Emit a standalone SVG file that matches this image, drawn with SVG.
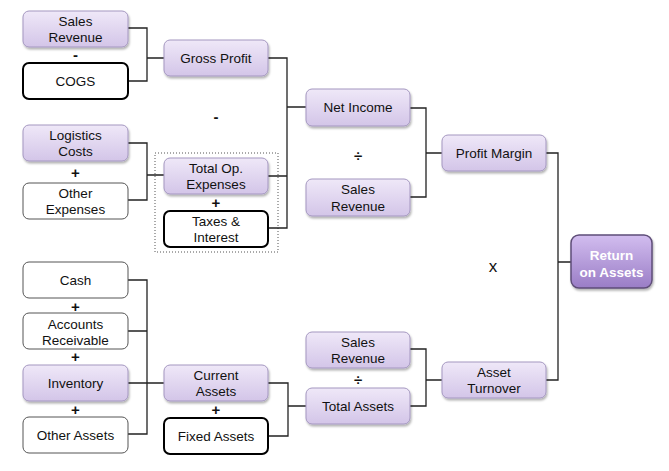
<svg xmlns="http://www.w3.org/2000/svg" width="669" height="471" viewBox="0 0 669 471">
<defs>
<linearGradient id="gp" x1="0" y1="0" x2="0" y2="1">
<stop offset="0" stop-color="#efe8f8"/><stop offset="1" stop-color="#d3c5e8"/>
</linearGradient>
<linearGradient id="gr" x1="0" y1="0" x2="0" y2="1">
<stop offset="0" stop-color="#d2bdef"/><stop offset="1" stop-color="#9a7dc6"/>
</linearGradient>
<filter id="sh" x="-10%" y="-10%" width="130%" height="140%">
<feDropShadow dx="1" dy="2" stdDeviation="1.2" flood-color="#000" flood-opacity="0.3"/>
</filter>
</defs>
<style>
text{font-family:"Liberation Sans",Arial,sans-serif;font-size:13.5px;fill:#111;text-anchor:middle}
.p{fill:url(#gp);stroke:#a497c0;stroke-width:1}
.w{fill:#fff;stroke:#555;stroke-width:1}
.b{fill:#fff;stroke:#000;stroke-width:2}
.r{fill:url(#gr);stroke:#5e4e78;stroke-width:1.5}
.rt{fill:#fff;font-weight:bold}
.op{font-size:15px;font-weight:bold}
.c{fill:none;stroke:#222;stroke-width:1.3}
</style>
<rect x="155" y="153" width="123" height="99" fill="none" stroke="#555" stroke-width="1" stroke-dasharray="1,2"/>
<g id="connectors">
<path class="c" d="M128 28H147V81H128M147 58H164"/>
<path class="c" d="M128 143H147V200H128M147 175H164"/>
<path class="c" d="M268 58H287V228H268M268 176H287M287 107H306"/>
<path class="c" d="M410 108H426V197H410M426 153H442"/>
<path class="c" d="M546 153H558V380H546M558 262H571"/>
<path class="c" d="M128 280H147V434H128M128 331H147M128 383H164"/>
<path class="c" d="M268 383H288V436H268M288 406H306"/>
<path class="c" d="M410 349H426V406H410M426 380H442"/>
</g>
<g id="sales-revenue-1"><rect class="p" x="23" y="11" width="105" height="36" rx="6" filter="url(#sh)"/><text x="75.5" y="26">Sales</text><text x="75.5" y="42">Revenue</text></g>
<text class="op" x="75.5" y="60">-</text>
<g id="cogs"><rect class="b" x="23" y="63" width="105" height="36" rx="6"/><text x="75.5" y="86">COGS</text></g>
<g id="gross-profit"><rect class="p" x="164" y="40" width="104" height="36" rx="6" filter="url(#sh)"/><text x="216" y="63">Gross Profit</text></g>
<text class="op" x="216" y="122">-</text>
<g id="logistics-costs"><rect class="p" x="23" y="125" width="105" height="36" rx="6" filter="url(#sh)"/><text x="75.5" y="140">Logistics</text><text x="75.5" y="156">Costs</text></g>
<text class="op" x="75.5" y="178">+</text>
<g id="other-expenses"><rect class="w" x="23" y="183" width="105" height="36" rx="6"/><text x="75.5" y="198">Other</text><text x="75.5" y="214">Expenses</text></g>
<g id="total-op-expenses"><rect class="p" x="164" y="158" width="104" height="36" rx="6" filter="url(#sh)"/><text x="216" y="173">Total Op.</text><text x="216" y="189">Expenses</text></g>
<text class="op" x="216" y="208">+</text>
<g id="taxes-interest"><rect class="b" x="164" y="211" width="104" height="36" rx="6"/><text x="216" y="226">Taxes &amp;</text><text x="216" y="242">Interest</text></g>
<g id="net-income"><rect class="p" x="306" y="89" width="104" height="37" rx="6" filter="url(#sh)"/><text x="358" y="112">Net Income</text></g>
<text class="op" x="358" y="161">÷</text>
<g id="sales-revenue-2"><rect class="p" x="306" y="179" width="104" height="37" rx="6" filter="url(#sh)"/><text x="358" y="194">Sales</text><text x="358" y="211">Revenue</text></g>
<g id="profit-margin"><rect class="p" x="442" y="135" width="104" height="36" rx="6" filter="url(#sh)"/><text x="494" y="158">Profit Margin</text></g>
<text x="493" y="272" style="font-size:17px">x</text>
<g id="return-on-assets"><rect class="r" x="571" y="235" width="81" height="53" rx="8" filter="url(#sh)"/><text class="rt" x="611.5" y="260">Return</text><text class="rt" x="611.5" y="277">on Assets</text></g>
<g id="cash"><rect class="w" x="23" y="262" width="105" height="36" rx="6"/><text x="75.5" y="285">Cash</text></g>
<text class="op" x="75.5" y="312">+</text>
<g id="accounts-receivable"><rect class="w" x="23" y="313" width="105" height="36" rx="6"/><text x="75.5" y="329">Accounts</text><text x="75.5" y="345">Receivable</text></g>
<text class="op" x="75.5" y="362">+</text>
<g id="inventory"><rect class="p" x="23" y="365" width="105" height="36" rx="6" filter="url(#sh)"/><text x="75.5" y="388">Inventory</text></g>
<text class="op" x="75.5" y="415">+</text>
<g id="other-assets"><rect class="w" x="23" y="417" width="105" height="36" rx="6"/><text x="75.5" y="440">Other Assets</text></g>
<g id="current-assets"><rect class="p" x="164" y="365" width="104" height="36" rx="6" filter="url(#sh)"/><text x="216" y="380">Current</text><text x="216" y="396">Assets</text></g>
<text class="op" x="216" y="415">+</text>
<g id="fixed-assets"><rect class="b" x="164" y="418" width="104" height="36" rx="6"/><text x="216" y="441">Fixed Assets</text></g>
<g id="sales-revenue-3"><rect class="p" x="306" y="332" width="104" height="36" rx="6" filter="url(#sh)"/><text x="358" y="347">Sales</text><text x="358" y="363">Revenue</text></g>
<text class="op" x="358" y="385">÷</text>
<g id="total-assets"><rect class="p" x="306" y="388" width="104" height="36" rx="6" filter="url(#sh)"/><text x="358" y="411">Total Assets</text></g>
<g id="asset-turnover"><rect class="p" x="442" y="362" width="104" height="36" rx="6" filter="url(#sh)"/><text x="494" y="377">Asset</text><text x="494" y="393">Turnover</text></g>
</svg>
